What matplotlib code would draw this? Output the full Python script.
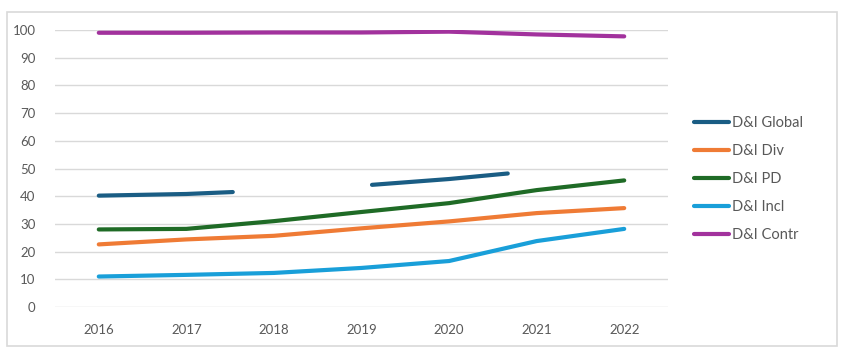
import matplotlib.pyplot as plt
import numpy as np
from matplotlib.patches import Rectangle

# Data
years = [2016, 2017, 2018, 2019, 2020, 2021, 2022]
div = [22.6, 24.4, 25.7, 28.4, 30.9, 33.9, 35.7]
pd_ = [28.0, 28.2, 31.0, 34.3, 37.5, 42.2, 45.7]
incl = [11.0, 11.6, 12.3, 14.1, 16.6, 23.8, 28.2]
contr = [99.0, 99.0, 99.1, 99.1, 99.4, 98.4, 97.7]
# Global series is broken into two pieces, sitting between the year categories
global_x = [2016, 2017, 2017.53, np.nan, 2019.12, 2020, 2020.67]
global_y = [40.2, 40.8, 41.5, np.nan, 44.1, 46.2, 48.2]

plt.rcParams['font.family'] = ['Lato', 'DejaVu Sans']
text_color = '#595959'
grid_color = '#d9d9d9'

fig = plt.figure(figsize=(8.45, 3.61), dpi=100)
ax = fig.add_axes([55 / 845, 1 - 307 / 361, 613 / 845, 277 / 361])

lw = 3.0
ax.plot(global_x, global_y, color='#1a5d84', lw=lw, solid_capstyle='round',
        label='D&I Global')
ax.plot(years, div, color='#ef7b35', lw=lw, solid_capstyle='round',
        label='D&I Div')
ax.plot(years, pd_, color='#1f6b26', lw=lw, solid_capstyle='round',
        label='D&I PD')
ax.plot(years, incl, color='#199fd9', lw=lw, solid_capstyle='round',
        label='D&I Incl')
ax.plot(years, contr, color='#a2329d', lw=lw, solid_capstyle='round',
        label='D&I Contr')

ax.set_xlim(2015.5, 2022.5)
ax.set_ylim(0, 100)
ax.set_xticks(years)
ax.set_xticklabels([str(y) for y in years])
ax.set_yticks(np.arange(0, 101, 10))
ax.grid(axis='y', color=grid_color, lw=1)
ax.set_axisbelow(True)
for s in ax.spines.values():
    s.set_visible(False)
ax.tick_params(length=0, colors=text_color, labelsize=9.5)
ax.tick_params(axis='x', pad=12)
ax.tick_params(axis='y', pad=14)

leg = fig.legend(loc='center left', bbox_to_anchor=(694 / 845, 1 - 179 / 361),
                 frameon=False, fontsize=10.5, handlelength=2.4,
                 handletextpad=0.2, labelspacing=0.95, borderpad=0,
                 borderaxespad=0)
for t in leg.get_texts():
    t.set_color(text_color)

# outer chart border
fig.patches.append(Rectangle((7 / 845, 1 - 346 / 361), 830 / 845, 334 / 361,
                             transform=fig.transFigure, fill=False,
                             edgecolor=grid_color, lw=1.2))

plt.savefig('out.png', dpi=100)
